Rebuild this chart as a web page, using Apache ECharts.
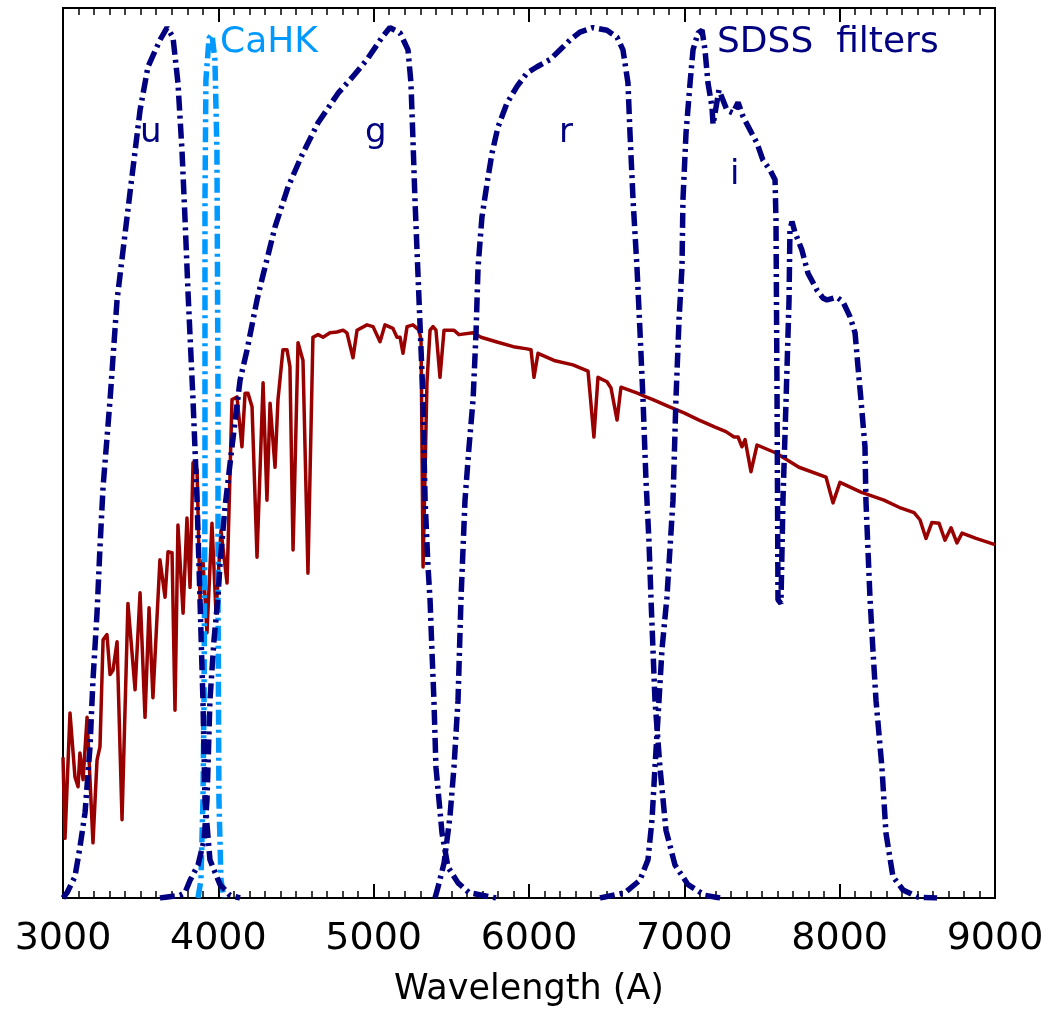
<!DOCTYPE html>
<html>
<head>
<meta charset="utf-8">
<script src="https://cdn.jsdelivr.net/npm/echarts@6/dist/echarts.min.js"></script>
<style>
html,body{margin:0;padding:0;background:#fff;}
#chart{width:1044px;height:1013px;}
</style>
</head>
<body>
<div id="chart"></div>
<script>
// ---- data (wavelength in Angstrom, normalised response / flux) ----
const xTicks = [3000, 4000, 5000, 6000, 7000, 8000, 9000];

const uWave = [3000,3026,3077,3109,3142,3174,3193,3219,3238,3258,3303,3348,3431,3496,3547,3624,3670,3708,3740,3766,3785,3805,3837,3863,3882,3901,3914,3946,4011,4075,4140];
const uResp = [0.000,0.006,0.024,0.057,0.096,0.170,0.245,0.320,0.394,0.462,0.560,0.672,0.792,0.885,0.934,0.964,0.978,0.967,0.916,0.840,0.765,0.680,0.560,0.447,0.335,0.222,0.110,0.043,0.015,0.003,0.000];

const gWave = [3624,3753,3785,3818,3869,3908,3927,3946,3972,3998,4011,4043,4088,4140,4185,4249,4288,4365,4449,4539,4642,4770,4861,4957,5054,5105,5170,5221,5240,5253,5266,5279,5292,5305,5318,5324,5331,5350,5363,5375,5388,5401,5440,5478,5543,5614,5788];
const gResp = [0.000,0.003,0.006,0.020,0.037,0.065,0.110,0.222,0.290,0.338,0.376,0.439,0.507,0.582,0.616,0.672,0.700,0.754,0.799,0.835,0.871,0.904,0.922,0.942,0.967,0.978,0.972,0.953,0.916,0.852,0.784,0.728,0.672,0.616,0.560,0.503,0.447,0.372,0.335,0.279,0.222,0.147,0.073,0.035,0.017,0.006,0.000];

const rWave = [5395,5414,5453,5491,5517,5543,5562,5588,5614,5640,5659,5672,5697,5730,5762,5800,5858,5923,5987,6052,6135,6200,6264,6328,6412,6502,6567,6605,6637,6650,6670,6695,6715,6734,6753,6772,6785,6811,6843,6882,6940,7024,7133,7230];
const rResp = [0.000,0.012,0.039,0.091,0.147,0.222,0.335,0.447,0.507,0.560,0.635,0.709,0.765,0.803,0.837,0.866,0.893,0.912,0.927,0.934,0.942,0.953,0.964,0.973,0.978,0.975,0.967,0.953,0.916,0.860,0.784,0.709,0.635,0.560,0.470,0.402,0.338,0.222,0.147,0.076,0.037,0.015,0.003,0.000];

const iWave = [6457,6618,6714,6766,6792,6811,6837,6856,6888,6927,6946,6966,6985,6991,7011,7037,7056,7088,7114,7133,7152,7178,7185,7223,7275,7313,7346,7378,7423,7468,7506,7552,7584,7590,7597,7603,7622,7635,7655,7674,7680,7693,7712,7757,7796,7854,7893,7919,7983,8021,8067,8099,8118,8137,8163,8169,8195,8214,8234,8272,8298,8343,8408,8504,8627];
const iResp = [0.000,0.006,0.020,0.043,0.088,0.147,0.222,0.279,0.338,0.447,0.560,0.650,0.709,0.784,0.860,0.916,0.953,0.972,0.975,0.953,0.916,0.889,0.869,0.908,0.885,0.882,0.894,0.878,0.863,0.848,0.829,0.818,0.807,0.762,0.560,0.335,0.331,0.447,0.560,0.672,0.751,0.760,0.748,0.728,0.702,0.683,0.674,0.672,0.675,0.670,0.653,0.635,0.597,0.560,0.507,0.447,0.338,0.279,0.222,0.147,0.073,0.024,0.009,0.001,0.000];

const cahkWave = [3869,3888,3901,3908,3914,3914,3920,3940,3959,3978,3991,3998,3998,4004,4017,4037];
const cahkResp = [0.000,0.020,0.110,0.222,0.447,0.784,0.919,0.966,0.970,0.942,0.840,0.560,0.335,0.110,0.020,0.000];

const specWave = [3000,3013,3045,3077,3097,3109,3129,3155,3193,3219,3238,3258,3283,3303,3322,3348,3380,3418,3464,3496,3528,3554,3579,3624,3657,3676,3702,3721,3740,3773,3798,3818,3837,3863,3882,3901,3927,3959,3985,4017,4056,4088,4120,4152,4172,4191,4217,4249,4288,4313,4333,4365,4384,4416,4442,4461,4481,4513,4545,4577,4609,4642,4674,4719,4764,4803,4828,4867,4893,4957,4996,5041,5073,5124,5150,5170,5189,5215,5253,5292,5305,5318,5343,5363,5382,5401,5427,5453,5517,5549,5640,5691,5788,5910,5987,6013,6032,6058,6161,6283,6380,6418,6444,6502,6528,6567,6592,6702,6753,6798,6901,6998,7095,7198,7268,7320,7346,7371,7391,7429,7468,7590,7738,7912,7957,8002,8137,8285,8382,8479,8517,8556,8594,8640,8678,8717,8755,8788,8878,9000];
const specFlux = [0.158,0.067,0.208,0.136,0.125,0.163,0.133,0.203,0.062,0.155,0.170,0.290,0.296,0.251,0.256,0.288,0.088,0.331,0.234,0.343,0.203,0.326,0.225,0.380,0.338,0.389,0.388,0.211,0.419,0.320,0.427,0.349,0.489,0.481,0.335,0.380,0.298,0.421,0.320,0.413,0.354,0.560,0.563,0.507,0.567,0.567,0.552,0.383,0.579,0.447,0.556,0.484,0.560,0.616,0.616,0.597,0.391,0.624,0.604,0.365,0.630,0.633,0.630,0.635,0.636,0.638,0.635,0.607,0.638,0.644,0.642,0.625,0.644,0.640,0.630,0.630,0.612,0.642,0.644,0.638,0.627,0.372,0.579,0.638,0.642,0.638,0.585,0.638,0.638,0.633,0.635,0.630,0.625,0.619,0.617,0.616,0.585,0.612,0.604,0.599,0.592,0.518,0.585,0.580,0.573,0.537,0.574,0.567,0.563,0.560,0.552,0.545,0.537,0.529,0.524,0.518,0.518,0.507,0.515,0.479,0.509,0.500,0.484,0.473,0.444,0.467,0.456,0.447,0.439,0.433,0.425,0.404,0.422,0.421,0.402,0.416,0.399,0.410,0.404,0.397];

// ---- styles ----
const FONT = 'DejaVu Sans';
const NAVY = '#000080';
const CAHK = '#0099ff';
const RED = '#990000';
const dashDot = [15, 5, 3, 5];

function zip(a, b) { return a.map((v, i) => [v, b[i]]); }

const chart = echarts.init(document.getElementById('chart'), null, {renderer: 'canvas'});

function filterSeries(name, w, r, color) {
  return {
    name: name, type: 'line', data: zip(w, r), showSymbol: false, symbol: 'none',
    lineStyle: {color: color, width: 5.5, type: dashDot, cap: 'butt'},
    z: 3, animation: false
  };
}

const axisCommon = {
  type: 'value', min: xTicks[0], max: xTicks[xTicks.length - 1], interval: 1000,
  axisLine: {show: true, onZero: false, lineStyle: {color: '#000', width: 2}},
  axisTick: {show: true, inside: true, length: 14, lineStyle: {color: '#000', width: 2}},
  minorTick: {show: true, splitNumber: 10, length: 7, lineStyle: {color: '#000', width: 1.5}},
  splitLine: {show: false}
};

chart.setOption({
  animation: false,
  backgroundColor: '#fff',
  grid: {left: 63, right: 49, top: 8, bottom: 115, show: true, borderColor: '#000', borderWidth: 2,
         containLabel: false, outerBoundsMode: 'none'},
  xAxis: [
    Object.assign({}, axisCommon, {
      position: 'bottom',
      axisLabel: {show: true, fontSize: 38, color: '#000', fontFamily: FONT, margin: 22,
                  formatter: function (v) { return String(v); }},
      name: 'Wavelength (A)', nameLocation: 'middle', nameGap: 74,
      nameTextStyle: {fontSize: 35, color: '#000', fontFamily: FONT}
    }),
    Object.assign({}, axisCommon, {position: 'top', axisLabel: {show: false}})
  ],
  yAxis: [
    {type: 'value', min: 0, max: 1, position: 'left', axisLine: {show: true, lineStyle: {color: '#000', width: 2}},
     axisTick: {show: false}, axisLabel: {show: false}, splitLine: {show: false}},
    {type: 'value', min: 0, max: 1, position: 'right', axisLine: {show: true, lineStyle: {color: '#000', width: 2}},
     axisTick: {show: false}, axisLabel: {show: false}, splitLine: {show: false}}
  ],
  series: [
    {name: 'spectrum', type: 'line', data: zip(specWave, specFlux), showSymbol: false, symbol: 'none',
     lineStyle: {color: RED, width: 3.5, join: 'round'}, z: 1},
    Object.assign(filterSeries('CaHK', cahkWave, cahkResp, CAHK), {z: 2}),
    filterSeries('u', uWave, uResp, NAVY),
    filterSeries('g', gWave, gResp, NAVY),
    filterSeries('r', rWave, rResp, NAVY),
    filterSeries('i', iWave, iResp, NAVY)
  ],
  graphic: [
    {type: 'text', left: 220, top: 25, style: {text: 'CaHK', fill: CAHK, font: '36px "DejaVu Sans"'}},
    {type: 'text', left: 717, top: 25, style: {text: 'SDSS  filters', fill: NAVY, font: '36px "DejaVu Sans"'}},
    {type: 'text', left: 140, top: 116, style: {text: 'u', fill: NAVY, font: '34px "DejaVu Sans"'}},
    {type: 'text', left: 365, top: 116, style: {text: 'g', fill: NAVY, font: '34px "DejaVu Sans"'}},
    {type: 'text', left: 559, top: 116, style: {text: 'r', fill: NAVY, font: '34px "DejaVu Sans"'}},
    {type: 'text', left: 730, top: 158, style: {text: 'i', fill: NAVY, font: '34px "DejaVu Sans"'}}
  ]
});
</script>
</body>
</html>
